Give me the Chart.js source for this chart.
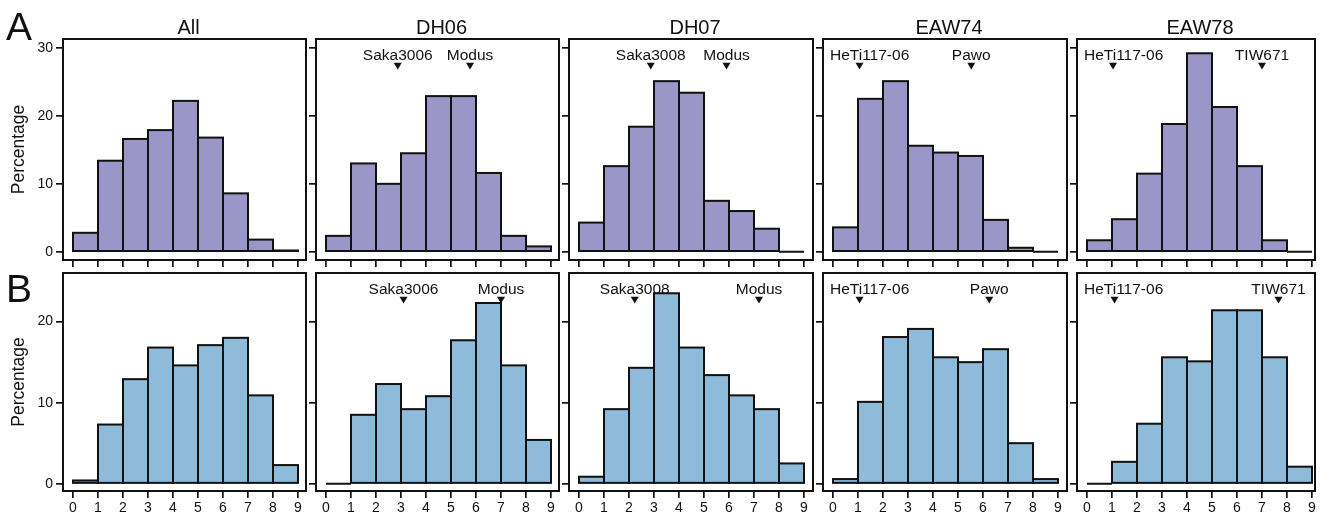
<!DOCTYPE html>
<html><head><meta charset="utf-8">
<script src="https://cdn.jsdelivr.net/npm/chart.js@4.4.1/dist/chart.umd.min.js"></script>
<style>
html,body{margin:0;padding:0;background:#fff;width:1322px;height:515px;overflow:hidden;}
body{position:relative;}
canvas{position:absolute;}
</style></head><body>
<script>
// ---------- data ----------
const panelTitles = ["All", "DH06", "DH07", "EAW74", "EAW78"];
const rowLetters = ["A", "B"];
const binStarts = [0, 1, 2, 3, 4, 5, 6, 7, 8];
const xTickValues = [0, 1, 2, 3, 4, 5, 6, 7, 8, 9];
const yTickValuesA = [0, 10, 20, 30];
const yTickValuesB = [0, 10, 20];
const yAxisTitle = "Percentage";

const pctA_All   = [2.8, 13.4, 16.6, 17.9, 22.2, 16.8, 8.6, 1.8, 0.2];
const pctA_DH06  = [2.35, 13.0, 10.0, 14.5, 22.9, 22.9, 11.6, 2.35, 0.8];
const pctA_DH07  = [4.3, 12.6, 18.4, 25.1, 23.4, 7.5, 6.0, 3.4, 0];
const pctA_EAW74 = [3.6, 22.5, 25.1, 15.6, 14.6, 14.1, 4.7, 0.6, 0];
const pctA_EAW78 = [1.7, 4.8, 11.5, 18.8, 29.2, 21.3, 12.6, 1.7, 0];

const pctB_All   = [0.4, 7.3, 12.9, 16.8, 14.6, 17.1, 18.0, 10.9, 2.3];
const pctB_DH06  = [0, 8.5, 12.3, 9.2, 10.8, 17.7, 22.3, 14.6, 5.4];
const pctB_DH07  = [0.86, 9.2, 14.3, 23.5, 16.8, 13.4, 10.9, 9.2, 2.5];
const pctB_EAW74 = [0.57, 10.1, 18.1, 19.1, 15.6, 15.0, 16.6, 5.0, 0.57];
const pctB_EAW78 = [0, 2.7, 7.4, 15.6, 15.1, 21.4, 21.4, 15.6, 2.1];

const markerNames = [[], ["Saka3006", "Modus"], ["Saka3008", "Modus"], ["HeTi117-06", "Pawo"], ["HeTi117-06", "TIW671"]];
const markerPosA  = [[], [2.87, 5.76], [2.87, 5.9], [1.06, 5.53], [1.04, 7.0]];
const markerPosB  = [[], [3.1, 7.0], [2.23, 7.2], [1.06, 6.25], [1.1, 7.66]];

// ---------- layout / style ----------
const FONT = '"Liberation Sans", Arial, Helvetica, sans-serif';
const INK = '#111';
const fills = ['rgb(154,150,199)', 'rgb(142,187,218)'];
const colLeft = [63, 316, 569, 823, 1077];
const colWidth = [243, 243, 244, 244, 238];
const rowTop = [39, 273];
const rowHeight = [221, 218];
const yRange = [[-1.2, 31.3], [-0.9, 26.0]];
const PX_PER_X = 25, X_MIN = -0.4;
const PADL = 62, PADT = 40, PADR = 6, PADB = 24;
const letterBaseline = [40, 302];

const rowValues = [
  [pctA_All, pctA_DH06, pctA_DH07, pctA_EAW74, pctA_EAW78],
  [pctB_All, pctB_DH06, pctB_DH07, pctB_EAW74, pctB_EAW78]
];
const rowMarkers = [markerPosA, markerPosB];
const rowYTicks = [yTickValuesA, yTickValuesB];

function makePlugin(r, c) {
  return {
    id: 'panel' + r + c,
    afterDatasetsDraw(chart) {
      const ctx = chart.ctx;
      const meta = chart.getDatasetMeta(0);
      ctx.save();
      ctx.strokeStyle = INK;
      ctx.lineWidth = 2;
      meta.data.forEach(bar => {
        const p = bar.getProps(['x', 'y', 'base', 'width'], true);
        ctx.strokeRect(p.x - p.width / 2, p.y, p.width, p.base - p.y);
      });
      ctx.restore();
    },
    afterDraw(chart) {
      const ctx = chart.ctx;
      const a = chart.chartArea;
      const xs = chart.scales.x;
      ctx.save();
      // box
      ctx.strokeStyle = INK;
      ctx.lineWidth = 2;
      ctx.strokeRect(a.left, a.top, a.right - a.left, a.bottom - a.top);
      ctx.fillStyle = INK;
      // title
      if (r === 0) {
        ctx.font = '20px ' + FONT;
        ctx.textAlign = 'center';
        ctx.textBaseline = 'alphabetic';
        ctx.fillText(panelTitles[c], (a.left + a.right) / 2 + 4, a.top - 5.5);
      }
      // markers
      const names = markerNames[c];
      const pos = rowMarkers[r][c];
      ctx.font = '15.5px ' + FONT;
      ctx.textAlign = 'left';
      ctx.textBaseline = 'alphabetic';
      names.forEach((nm, i) => {
        const px = xs.getPixelForValue(pos[i]);
        const w = ctx.measureText(nm).width;
        let left = px - w / 2;
        left = Math.max(left, a.left + 7);
        left = Math.min(left, a.right - 7 - w);
        ctx.fillText(nm, left, a.top + 20.5);
        ctx.beginPath();
        ctx.moveTo(px - 4, a.top + 23.7);
        ctx.lineTo(px + 4, a.top + 23.7);
        ctx.lineTo(px, a.top + 30.5);
        ctx.closePath();
        ctx.fill();
      });
      // panel letter
      if (c === 0) {
        ctx.font = '39px ' + FONT;
        ctx.textAlign = 'left';
        const canvasTop = rowTop[r] - PADT;
        ctx.fillText(rowLetters[r], 6 - (colLeft[0] - PADL), letterBaseline[r] - canvasTop);
      }
      ctx.restore();
    }
  };
}

for (let r = 0; r < 2; r++) {
  for (let c = 0; c < 5; c++) {
    const cv = document.createElement('canvas');
    const W = colWidth[c] + PADL + PADR;
    const H = rowHeight[r] + PADT + PADB;
    cv.width = W; cv.height = H;
    cv.style.width = W + 'px'; cv.style.height = H + 'px';
    cv.style.left = (colLeft[c] - PADL) + 'px';
    cv.style.top = (rowTop[r] - PADT) + 'px';
    document.body.appendChild(cv);
    const vals = rowValues[r][c];
    const xMax = X_MIN + colWidth[c] / PX_PER_X;
    const yTicks = rowYTicks[r];
    new Chart(cv, {
      type: 'bar',
      data: {
        datasets: [{
          data: binStarts.map((b, i) => ({ x: b + 0.5, y: vals[i] })),
          backgroundColor: fills[r],
          borderWidth: 0,
          barPercentage: 1,
          categoryPercentage: 1
        }]
      },
      options: {
        responsive: false,
        animation: false,
        devicePixelRatio: 1,
        events: [],
        layout: { padding: { left: 0, top: PADT, right: PADR, bottom: 0 } },
        plugins: { legend: { display: false }, tooltip: { enabled: false }, title: { display: false } },
        scales: {
          x: {
            type: 'linear', min: X_MIN, max: xMax, offset: false,
            afterBuildTicks: s => { s.ticks = xTickValues.map(v => ({ value: v })); },
            afterFit: s => { s.height = PADB; },
            grid: { display: true, offset: false, drawOnChartArea: false, drawTicks: true, tickLength: 7, color: INK, lineWidth: 1.7 },
            border: { display: false },
            ticks: { display: r === 1, autoSkip: false, maxRotation: 0, minRotation: 0, padding: 2,
                     font: { family: FONT, size: 14 }, color: INK, callback: v => String(v) }
          },
          y: {
            type: 'linear', min: yRange[r][0], max: yRange[r][1], beginAtZero: false,
            afterBuildTicks: s => { s.ticks = yTicks.map(v => ({ value: v })); },
            afterFit: s => { s.width = PADL; },
            grid: { display: true, drawOnChartArea: false, drawTicks: true, tickLength: 7, color: INK, lineWidth: 1.7 },
            border: { display: false },
            ticks: { display: c === 0, padding: 3, font: { family: FONT, size: 14 }, color: INK, callback: v => String(v) },
            title: { display: c === 0, text: yAxisTitle, font: { family: FONT, size: 17.5 }, color: INK, padding: { top: 8, bottom: 0 } }
          }
        }
      },
      plugins: [makePlugin(r, c)]
    });
  }
}
</script>
</body></html>
